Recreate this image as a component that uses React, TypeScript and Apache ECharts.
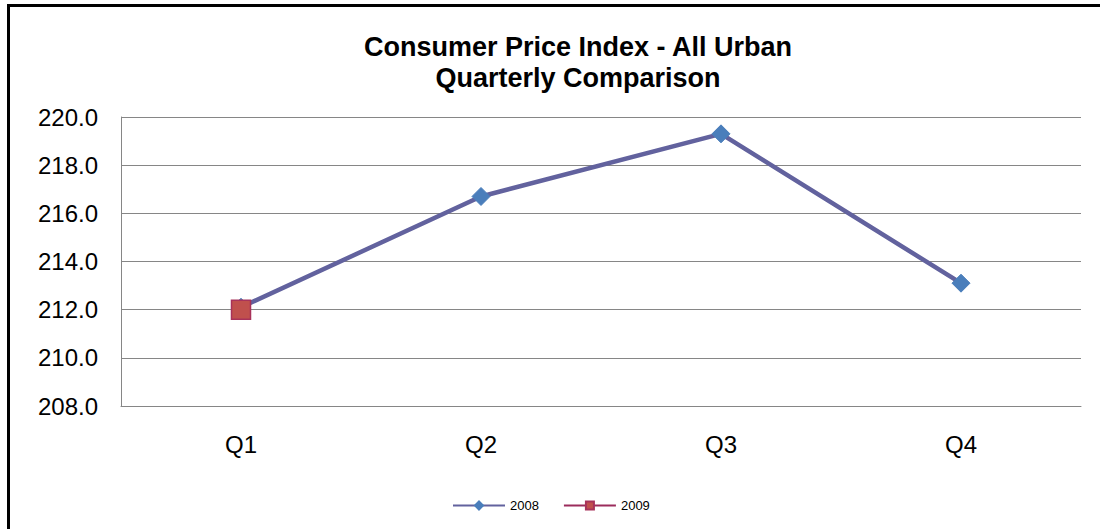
import React, { useEffect, useRef } from "react";
import * as echarts from "echarts";

const categories = ["Q1", "Q2", "Q3", "Q4"];
const series2008 = [212.1, 216.7, 219.3, 213.1];
const series2009: (number | null)[] = [212.0, null, null, null];
const yMin = 208;
const yMax = 220;
const yStep = 2;

const FONT = "'Liberation Sans', Arial, sans-serif";

export default function App() {
  const ref = useRef<HTMLDivElement>(null);
  useEffect(() => {
    if (!ref.current) return;
    const chart = echarts.init(ref.current, undefined, { renderer: "svg" });
    chart.setOption({
      animation: false,
      backgroundColor: "#ffffff",
      textStyle: { fontFamily: FONT },
      title: {
        text: "Consumer Price Index - All Urban\nQuarterly Comparison",
        left: 573,
        top: 26,
        textAlign: "center",
        textStyle: {
          fontFamily: FONT,
          fontSize: 27,
          fontWeight: "bold",
          lineHeight: 31,
          color: "#000",
        },
      },
      graphic: [
        {
          type: "rect",
          shape: { x: 8.5, y: 5.5, width: 1200, height: 700 },
          style: { fill: "none", stroke: "#000", lineWidth: 3 },
          silent: true,
        },
      ],
      legend: {
        data: ["2008", "2009"],
        left: 447,
        top: 494,
        itemWidth: 52,
        itemHeight: 10,
        itemGap: 24,
        textStyle: { fontFamily: FONT, fontSize: 13, color: "#000" },
      },
      grid: { left: 121, top: 117, right: 19, bottom: 123, containLabel: false },
      xAxis: {
        type: "category",
        data: categories,
        boundaryGap: true,
        axisLine: { show: true, lineStyle: { color: "#868686", width: 1 } },
        axisTick: { show: false },
        axisLabel: { fontFamily: FONT, fontSize: 24, color: "#000", margin: 26 },
      },
      yAxis: {
        type: "value",
        min: yMin,
        max: yMax,
        interval: yStep,
        axisLine: { show: true, lineStyle: { color: "#868686", width: 1 } },
        axisTick: { show: false },
        splitLine: { show: true, lineStyle: { color: "#868686", width: 1 } },
        axisLabel: {
          fontFamily: FONT,
          fontSize: 24,
          color: "#000",
          margin: 23,
          formatter: (v: number) => v.toFixed(1),
        },
      },
      series: [
        {
          name: "2008",
          type: "line",
          data: series2008,
          symbol: "diamond",
          symbolSize: 18,
          lineStyle: { color: "#62629e", width: 4.5 },
          itemStyle: { color: "#4a7ebb", borderColor: "#4a7ebb", borderWidth: 1 },
          z: 2,
        },
        {
          name: "2009",
          type: "line",
          data: series2009,
          symbol: "rect",
          symbolSize: 19,
          lineStyle: { color: "#9b2c5c", width: 3 },
          itemStyle: { color: "#c0504d", borderColor: "#a8325a", borderWidth: 1.5 },
          z: 3,
        },
      ],
    });
    return () => chart.dispose();
  }, []);
  return (
    <div
      ref={ref}
      style={{ position: "absolute", left: 0, top: 0, width: 1100, height: 529 }}
    />
  );
}
